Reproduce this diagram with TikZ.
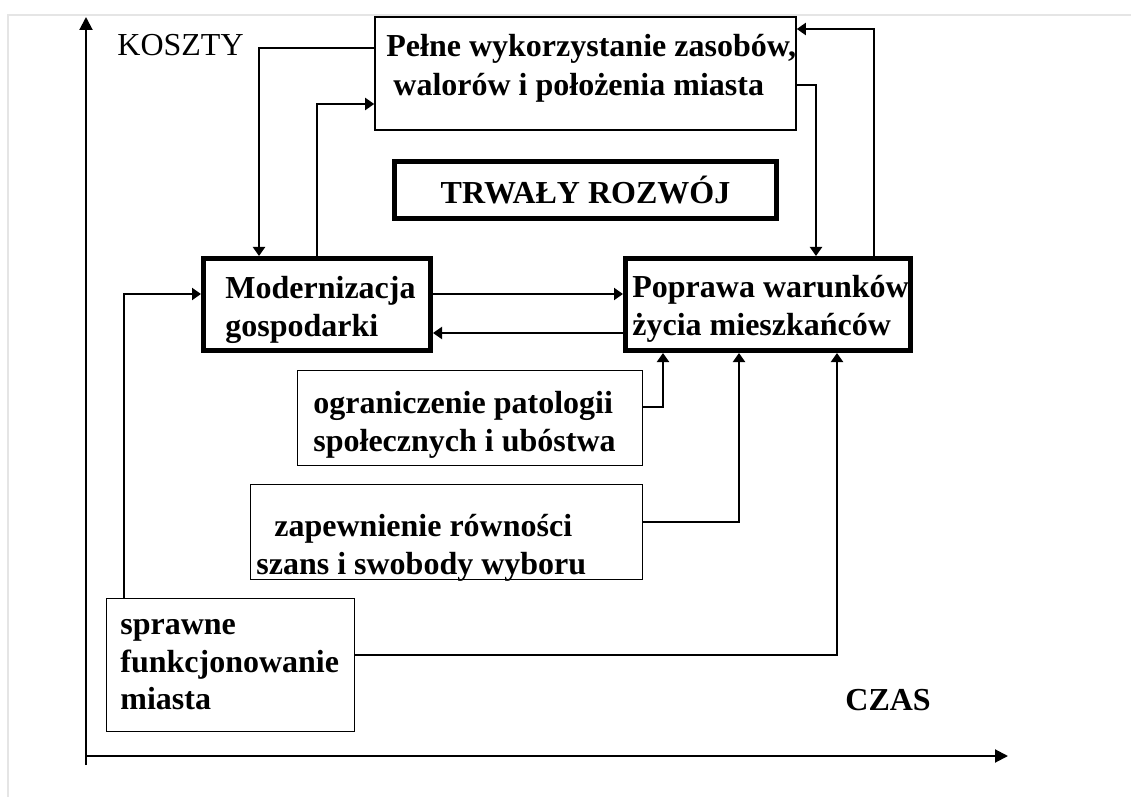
\documentclass[tikz,border=0pt]{standalone}
\usepackage{fontspec}
\setmainfont{Liberation Serif}
\usetikzlibrary{arrows.meta}
\tikzstyle{box}=[rectangle, draw=black, line width=0.8pt, inner sep=0pt, anchor=center]
\tikzstyle{bbox}=[box, line width=2.5pt]
\tikzstyle{annot}=[align=left, inner sep=0pt, font=\fontsize{16}{18.75}\selectfont]
\tikzstyle{btext}=[annot, anchor=north west, font=\fontsize{16}{18.75}\selectfont\bfseries]
\tikzstyle{conn}=[line width=1pt, -{Triangle[length=4.5pt,width=6pt]}]
\tikzstyle{axis}=[line width=1pt, -{Triangle[length=6.5pt,width=6.5pt]}]

\begin{document}
\begin{tikzpicture}[x=0.5pt,y=-0.5pt]
	\useasboundingbox (0,0) rectangle (1131,797);
	% page edge
	\draw[black!10, line width=0.8pt] (8,797) -- (8,15) -- (1131,15);

	% axes
	\coordinate (origin) at (86,756);
	\coordinate (ybot) at (86,765);
	\coordinate (ytop) at (86,17);
	\coordinate (xend) at (1008,756);
	\draw[axis] (ybot) -- (ytop);
	\draw[axis] (origin) -- (xend);
	\node[annot, anchor=base west] (koszty) at (117,56) {KOSZTY};
	\node[annot, anchor=base west, font=\fontsize{16}{18.75}\selectfont\bfseries] (czas) at (845,710) {CZAS};

	% boxes
	\node[box, minimum width=210.5pt, minimum height=56.5pt] (pelne) at (585.5,73.5) {};
	\node[btext] (pelnetxt) at (386,34) {Pełne wykorzystanie zasobów,\\[0.75pt]\hspace*{3.5pt}walorów i położenia miasta};
	\node[bbox, minimum width=191pt, minimum height=28.5pt, font=\fontsize{16}{18.75}\selectfont\bfseries] (trwaly) at (585.5,190) {TRWAŁY ROZWÓJ};
	\node[bbox, minimum width=113.5pt, minimum height=46pt] (modern) at (317,304.5) {};
	\node[btext] (moderntxt) at (225,276) {Modernizacja\\gospodarki};
	\node[bbox, minimum width=142.5pt, minimum height=46pt] (poprawa) at (768,304.5) {};
	\node[btext] (poprawatxt) at (632,275) {Poprawa warunków\\życia mieszkańców};
	\node[box, minimum width=172.5pt, minimum height=47.5pt] (ogran) at (470,418) {};
	\node[btext] (ograntxt) at (313,391) {ograniczenie patologii\\społecznych i ubóstwa};
	\node[box, minimum width=196pt, minimum height=47.5pt] (zapew) at (446.5,532) {};
	\node[btext] (zapewtxt) at (256,514) {\hspace*{9pt}zapewnienie równości\\szans i swobody wyboru};
	\node[box, minimum width=124pt, minimum height=66.5pt] (sprawne) at (230.5,665) {};
	\node[btext] (sprawnetxt) at (120,619) {sprawne\\funkcjonowanie\\miasta};

	% connectors
	\draw[conn] (pelne.west |- 0,48) -| (modern.north -| 259,0);
	\draw[conn] (modern.north -| 317,0) |- (pelne.west |- 0,104);
	\draw[conn] (pelne.east |- 0,85) -| (poprawa.north -| 816,0);
	\draw[conn] (poprawa.north -| 874,0) |- (pelne.east |- 0,29);
	\draw[conn] (modern.east |- 0,294) -- (poprawa.west |- 0,294);
	\draw[conn] (poprawa.west |- 0,333) -- (modern.east |- 0,333);
	\draw[conn] (sprawne.north -| 124,0) |- (modern.west |- 0,294);
	\draw[conn] (ogran.east |- 0,407) -| (poprawa.south -| 663,0);
	\draw[conn] (zapew.east |- 0,522) -| (poprawa.south -| 739,0);
	\draw[conn] (sprawne.east |- 0,655) -| (poprawa.south -| 837,0);
\end{tikzpicture}
\end{document}
